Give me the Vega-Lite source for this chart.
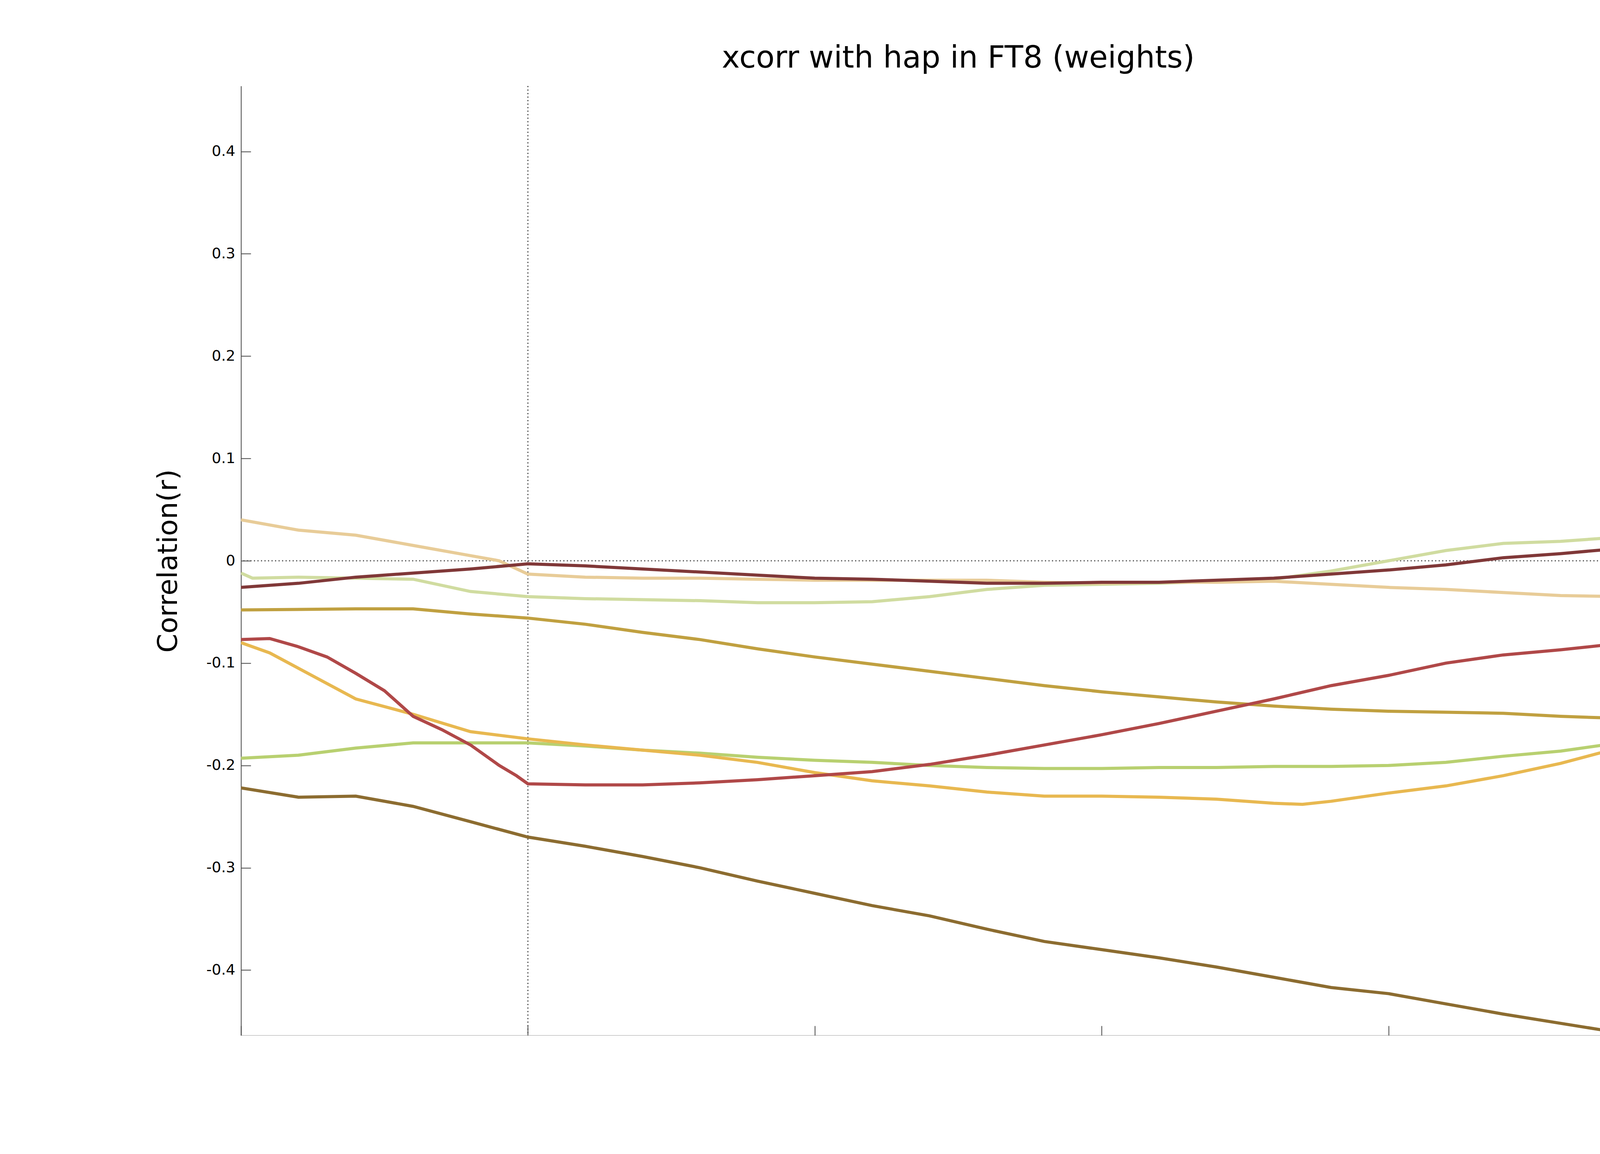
{
  "$schema": "https://vega.github.io/schema/vega-lite/v6.json",
  "width": 3672,
  "height": 2430,
  "autosize": {"type": "none"},
  "padding": {"left": 617, "top": 220, "right": 0, "bottom": 0},
  "background": "white",
  "config": {"font": "DejaVu Sans", "view": {"stroke": null}},
  "title": {"text": "xcorr with hap in FT8 (weights)", "fontSize": 78, "fontWeight": "normal", "offset": 30},
  "datasets": {
    "curves": [
      {"lag": -0.5, "r": -0.193, "hap": "hap01"}, {"lag": -0.4, "r": -0.19, "hap": "hap01"}, {"lag": -0.3, "r": -0.183, "hap": "hap01"}, {"lag": -0.2, "r": -0.178, "hap": "hap01"}, {"lag": -0.1, "r": -0.178, "hap": "hap01"}, {"lag": 0, "r": -0.178, "hap": "hap01"}, {"lag": 0.1, "r": -0.181, "hap": "hap01"}, {"lag": 0.2, "r": -0.185, "hap": "hap01"}, {"lag": 0.3, "r": -0.188, "hap": "hap01"}, {"lag": 0.4, "r": -0.192, "hap": "hap01"}, {"lag": 0.5, "r": -0.195, "hap": "hap01"}, {"lag": 0.6, "r": -0.197, "hap": "hap01"}, {"lag": 0.7, "r": -0.2, "hap": "hap01"}, {"lag": 0.8, "r": -0.202, "hap": "hap01"}, {"lag": 0.9, "r": -0.203, "hap": "hap01"}, {"lag": 1.0, "r": -0.203, "hap": "hap01"}, {"lag": 1.1, "r": -0.202, "hap": "hap01"}, {"lag": 1.2, "r": -0.202, "hap": "hap01"}, {"lag": 1.3, "r": -0.201, "hap": "hap01"}, {"lag": 1.4, "r": -0.201, "hap": "hap01"}, {"lag": 1.5, "r": -0.2, "hap": "hap01"}, {"lag": 1.6, "r": -0.197, "hap": "hap01"}, {"lag": 1.7, "r": -0.191, "hap": "hap01"}, {"lag": 1.8, "r": -0.186, "hap": "hap01"}, {"lag": 1.9, "r": -0.178, "hap": "hap01"}, {"lag": 2.0, "r": -0.171, "hap": "hap01"},
      {"lag": -0.5, "r": -0.012, "hap": "hap02"}, {"lag": -0.48, "r": -0.017, "hap": "hap02"}, {"lag": -0.4, "r": -0.016, "hap": "hap02"}, {"lag": -0.3, "r": -0.017, "hap": "hap02"}, {"lag": -0.2, "r": -0.018, "hap": "hap02"}, {"lag": -0.1, "r": -0.03, "hap": "hap02"}, {"lag": 0, "r": -0.035, "hap": "hap02"}, {"lag": 0.1, "r": -0.037, "hap": "hap02"}, {"lag": 0.2, "r": -0.038, "hap": "hap02"}, {"lag": 0.3, "r": -0.039, "hap": "hap02"}, {"lag": 0.4, "r": -0.041, "hap": "hap02"}, {"lag": 0.5, "r": -0.041, "hap": "hap02"}, {"lag": 0.6, "r": -0.04, "hap": "hap02"}, {"lag": 0.7, "r": -0.035, "hap": "hap02"}, {"lag": 0.8, "r": -0.028, "hap": "hap02"}, {"lag": 0.9, "r": -0.024, "hap": "hap02"}, {"lag": 1.0, "r": -0.023, "hap": "hap02"}, {"lag": 1.1, "r": -0.022, "hap": "hap02"}, {"lag": 1.2, "r": -0.02, "hap": "hap02"}, {"lag": 1.3, "r": -0.018, "hap": "hap02"}, {"lag": 1.4, "r": -0.01, "hap": "hap02"}, {"lag": 1.5, "r": 0.0, "hap": "hap02"}, {"lag": 1.6, "r": 0.01, "hap": "hap02"}, {"lag": 1.7, "r": 0.017, "hap": "hap02"}, {"lag": 1.8, "r": 0.019, "hap": "hap02"}, {"lag": 1.9, "r": 0.023, "hap": "hap02"}, {"lag": 2.0, "r": 0.028, "hap": "hap02"},
      {"lag": -0.5, "r": -0.222, "hap": "hap03"}, {"lag": -0.4, "r": -0.231, "hap": "hap03"}, {"lag": -0.3, "r": -0.23, "hap": "hap03"}, {"lag": -0.2, "r": -0.24, "hap": "hap03"}, {"lag": -0.1, "r": -0.255, "hap": "hap03"}, {"lag": 0, "r": -0.27, "hap": "hap03"}, {"lag": 0.1, "r": -0.279, "hap": "hap03"}, {"lag": 0.2, "r": -0.289, "hap": "hap03"}, {"lag": 0.3, "r": -0.3, "hap": "hap03"}, {"lag": 0.4, "r": -0.313, "hap": "hap03"}, {"lag": 0.5, "r": -0.325, "hap": "hap03"}, {"lag": 0.6, "r": -0.337, "hap": "hap03"}, {"lag": 0.7, "r": -0.347, "hap": "hap03"}, {"lag": 0.8, "r": -0.36, "hap": "hap03"}, {"lag": 0.9, "r": -0.372, "hap": "hap03"}, {"lag": 1.0, "r": -0.38, "hap": "hap03"}, {"lag": 1.1, "r": -0.388, "hap": "hap03"}, {"lag": 1.2, "r": -0.397, "hap": "hap03"}, {"lag": 1.3, "r": -0.407, "hap": "hap03"}, {"lag": 1.4, "r": -0.417, "hap": "hap03"}, {"lag": 1.5, "r": -0.423, "hap": "hap03"}, {"lag": 1.6, "r": -0.433, "hap": "hap03"}, {"lag": 1.7, "r": -0.443, "hap": "hap03"}, {"lag": 1.8, "r": -0.452, "hap": "hap03"}, {"lag": 1.9, "r": -0.461, "hap": "hap03"}, {"lag": 1.97, "r": -0.466, "hap": "hap03"},
      {"lag": -0.5, "r": -0.048, "hap": "hap04"}, {"lag": -0.3, "r": -0.047, "hap": "hap04"}, {"lag": -0.2, "r": -0.047, "hap": "hap04"}, {"lag": -0.1, "r": -0.052, "hap": "hap04"}, {"lag": 0, "r": -0.056, "hap": "hap04"}, {"lag": 0.1, "r": -0.062, "hap": "hap04"}, {"lag": 0.2, "r": -0.07, "hap": "hap04"}, {"lag": 0.3, "r": -0.077, "hap": "hap04"}, {"lag": 0.4, "r": -0.086, "hap": "hap04"}, {"lag": 0.5, "r": -0.094, "hap": "hap04"}, {"lag": 0.6, "r": -0.101, "hap": "hap04"}, {"lag": 0.7, "r": -0.108, "hap": "hap04"}, {"lag": 0.8, "r": -0.115, "hap": "hap04"}, {"lag": 0.9, "r": -0.122, "hap": "hap04"}, {"lag": 1.0, "r": -0.128, "hap": "hap04"}, {"lag": 1.1, "r": -0.133, "hap": "hap04"}, {"lag": 1.2, "r": -0.138, "hap": "hap04"}, {"lag": 1.3, "r": -0.142, "hap": "hap04"}, {"lag": 1.4, "r": -0.145, "hap": "hap04"}, {"lag": 1.5, "r": -0.147, "hap": "hap04"}, {"lag": 1.6, "r": -0.148, "hap": "hap04"}, {"lag": 1.7, "r": -0.149, "hap": "hap04"}, {"lag": 1.8, "r": -0.152, "hap": "hap04"}, {"lag": 1.9, "r": -0.154, "hap": "hap04"}, {"lag": 2.0, "r": -0.155, "hap": "hap04"},
      {"lag": -0.5, "r": -0.08, "hap": "hap05"}, {"lag": -0.45, "r": -0.09, "hap": "hap05"}, {"lag": -0.4, "r": -0.105, "hap": "hap05"}, {"lag": -0.35, "r": -0.12, "hap": "hap05"}, {"lag": -0.3, "r": -0.135, "hap": "hap05"}, {"lag": -0.2, "r": -0.15, "hap": "hap05"}, {"lag": -0.1, "r": -0.167, "hap": "hap05"}, {"lag": 0, "r": -0.174, "hap": "hap05"}, {"lag": 0.1, "r": -0.18, "hap": "hap05"}, {"lag": 0.2, "r": -0.185, "hap": "hap05"}, {"lag": 0.3, "r": -0.19, "hap": "hap05"}, {"lag": 0.4, "r": -0.197, "hap": "hap05"}, {"lag": 0.5, "r": -0.207, "hap": "hap05"}, {"lag": 0.6, "r": -0.215, "hap": "hap05"}, {"lag": 0.7, "r": -0.22, "hap": "hap05"}, {"lag": 0.8, "r": -0.226, "hap": "hap05"}, {"lag": 0.9, "r": -0.23, "hap": "hap05"}, {"lag": 1.0, "r": -0.23, "hap": "hap05"}, {"lag": 1.1, "r": -0.231, "hap": "hap05"}, {"lag": 1.2, "r": -0.233, "hap": "hap05"}, {"lag": 1.3, "r": -0.237, "hap": "hap05"}, {"lag": 1.35, "r": -0.238, "hap": "hap05"}, {"lag": 1.4, "r": -0.235, "hap": "hap05"}, {"lag": 1.5, "r": -0.227, "hap": "hap05"}, {"lag": 1.6, "r": -0.22, "hap": "hap05"}, {"lag": 1.7, "r": -0.21, "hap": "hap05"}, {"lag": 1.8, "r": -0.198, "hap": "hap05"}, {"lag": 1.9, "r": -0.183, "hap": "hap05"}, {"lag": 2.0, "r": -0.179, "hap": "hap05"},
      {"lag": -0.5, "r": 0.04, "hap": "hap06"}, {"lag": -0.4, "r": 0.03, "hap": "hap06"}, {"lag": -0.3, "r": 0.025, "hap": "hap06"}, {"lag": -0.2, "r": 0.015, "hap": "hap06"}, {"lag": -0.1, "r": 0.005, "hap": "hap06"}, {"lag": -0.05, "r": 0.0, "hap": "hap06"}, {"lag": 0, "r": -0.013, "hap": "hap06"}, {"lag": 0.1, "r": -0.016, "hap": "hap06"}, {"lag": 0.2, "r": -0.017, "hap": "hap06"}, {"lag": 0.3, "r": -0.017, "hap": "hap06"}, {"lag": 0.4, "r": -0.018, "hap": "hap06"}, {"lag": 0.5, "r": -0.019, "hap": "hap06"}, {"lag": 0.6, "r": -0.019, "hap": "hap06"}, {"lag": 0.7, "r": -0.019, "hap": "hap06"}, {"lag": 0.8, "r": -0.019, "hap": "hap06"}, {"lag": 0.9, "r": -0.021, "hap": "hap06"}, {"lag": 1.0, "r": -0.022, "hap": "hap06"}, {"lag": 1.1, "r": -0.021, "hap": "hap06"}, {"lag": 1.2, "r": -0.021, "hap": "hap06"}, {"lag": 1.3, "r": -0.02, "hap": "hap06"}, {"lag": 1.4, "r": -0.023, "hap": "hap06"}, {"lag": 1.5, "r": -0.026, "hap": "hap06"}, {"lag": 1.6, "r": -0.028, "hap": "hap06"}, {"lag": 1.7, "r": -0.031, "hap": "hap06"}, {"lag": 1.8, "r": -0.034, "hap": "hap06"}, {"lag": 1.9, "r": -0.035, "hap": "hap06"}, {"lag": 2.0, "r": -0.037, "hap": "hap06"},
      {"lag": -0.5, "r": -0.026, "hap": "hap07"}, {"lag": -0.4, "r": -0.022, "hap": "hap07"}, {"lag": -0.3, "r": -0.016, "hap": "hap07"}, {"lag": -0.2, "r": -0.012, "hap": "hap07"}, {"lag": -0.1, "r": -0.008, "hap": "hap07"}, {"lag": 0, "r": -0.003, "hap": "hap07"}, {"lag": 0.1, "r": -0.005, "hap": "hap07"}, {"lag": 0.2, "r": -0.008, "hap": "hap07"}, {"lag": 0.3, "r": -0.011, "hap": "hap07"}, {"lag": 0.4, "r": -0.014, "hap": "hap07"}, {"lag": 0.5, "r": -0.017, "hap": "hap07"}, {"lag": 0.6, "r": -0.018, "hap": "hap07"}, {"lag": 0.7, "r": -0.02, "hap": "hap07"}, {"lag": 0.8, "r": -0.022, "hap": "hap07"}, {"lag": 0.9, "r": -0.022, "hap": "hap07"}, {"lag": 1.0, "r": -0.021, "hap": "hap07"}, {"lag": 1.1, "r": -0.021, "hap": "hap07"}, {"lag": 1.2, "r": -0.019, "hap": "hap07"}, {"lag": 1.3, "r": -0.017, "hap": "hap07"}, {"lag": 1.4, "r": -0.013, "hap": "hap07"}, {"lag": 1.5, "r": -0.009, "hap": "hap07"}, {"lag": 1.6, "r": -0.004, "hap": "hap07"}, {"lag": 1.7, "r": 0.003, "hap": "hap07"}, {"lag": 1.8, "r": 0.007, "hap": "hap07"}, {"lag": 1.9, "r": 0.012, "hap": "hap07"}, {"lag": 2.0, "r": 0.016, "hap": "hap07"},
      {"lag": -0.5, "r": -0.077, "hap": "hap08"}, {"lag": -0.45, "r": -0.076, "hap": "hap08"}, {"lag": -0.4, "r": -0.084, "hap": "hap08"}, {"lag": -0.35, "r": -0.094, "hap": "hap08"}, {"lag": -0.3, "r": -0.11, "hap": "hap08"}, {"lag": -0.25, "r": -0.127, "hap": "hap08"}, {"lag": -0.2, "r": -0.152, "hap": "hap08"}, {"lag": -0.15, "r": -0.165, "hap": "hap08"}, {"lag": -0.1, "r": -0.18, "hap": "hap08"}, {"lag": -0.05, "r": -0.2, "hap": "hap08"}, {"lag": -0.02, "r": -0.21, "hap": "hap08"}, {"lag": 0, "r": -0.218, "hap": "hap08"}, {"lag": 0.1, "r": -0.219, "hap": "hap08"}, {"lag": 0.2, "r": -0.219, "hap": "hap08"}, {"lag": 0.3, "r": -0.217, "hap": "hap08"}, {"lag": 0.4, "r": -0.214, "hap": "hap08"}, {"lag": 0.5, "r": -0.21, "hap": "hap08"}, {"lag": 0.6, "r": -0.206, "hap": "hap08"}, {"lag": 0.7, "r": -0.199, "hap": "hap08"}, {"lag": 0.8, "r": -0.19, "hap": "hap08"}, {"lag": 0.9, "r": -0.18, "hap": "hap08"}, {"lag": 1.0, "r": -0.17, "hap": "hap08"}, {"lag": 1.1, "r": -0.159, "hap": "hap08"}, {"lag": 1.2, "r": -0.147, "hap": "hap08"}, {"lag": 1.3, "r": -0.135, "hap": "hap08"}, {"lag": 1.4, "r": -0.122, "hap": "hap08"}, {"lag": 1.5, "r": -0.112, "hap": "hap08"}, {"lag": 1.6, "r": -0.1, "hap": "hap08"}, {"lag": 1.7, "r": -0.092, "hap": "hap08"}, {"lag": 1.8, "r": -0.087, "hap": "hap08"}, {"lag": 1.9, "r": -0.081, "hap": "hap08"}, {"lag": 2.0, "r": -0.077, "hap": "hap08"}
    ]
  },
  "layer": [
    {
      "data": {"values": [{"ref": 0}]},
      "mark": {"type": "rule", "color": "#555555", "strokeDash": [3, 6], "strokeWidth": 3},
      "encoding": {"x": {"field": "ref", "type": "quantitative"}}
    },
    {
      "data": {"values": [{"ref": 0}]},
      "mark": {"type": "rule", "color": "#555555", "strokeDash": [3, 6], "strokeWidth": 3},
      "encoding": {"y": {"field": "ref", "type": "quantitative"}}
    },
    {
      "data": {"name": "curves"},
      "mark": {"type": "line", "strokeWidth": 8, "clip": true},
      "encoding": {
        "x": {
          "field": "lag", "type": "quantitative", "title": "Lag(s)",
          "scale": {"domain": [-0.5, 2], "nice": false, "zero": false},
          "axis": {"values": [-0.5, 0, 0.5, 1, 1.5, 2], "format": "~g", "labelExpr": "replace(datum.label, '\u2212', '-')", "labelFontSize": 38, "titleFontSize": 70, "titleFontWeight": "normal", "tickSize": -25, "labelPadding": 25, "titlePadding": 20, "grid": false, "domainColor": "#444444", "tickColor": "#444444", "tickWidth": 2, "domainWidth": 2}
        },
        "y": {
          "field": "r", "type": "quantitative", "title": "Correlation(r)",
          "scale": {"domain": [-0.464, 0.464], "nice": false},
          "axis": {"values": [-0.4, -0.3, -0.2, -0.1, 0, 0.1, 0.2, 0.3, 0.4], "format": "~g", "labelExpr": "replace(datum.label, '\u2212', '-')", "labelFontSize": 38, "titleFontSize": 70, "titleFontWeight": "normal", "tickSize": -25, "labelPadding": 40, "titlePadding": 60, "grid": false, "domainColor": "#444444", "tickColor": "#444444", "tickWidth": 2, "domainWidth": 2}
        },
        "color": {
          "field": "hap", "type": "nominal",
          "scale": {"domain": ["hap01", "hap02", "hap03", "hap04", "hap05", "hap06", "hap07", "hap08"], "range": ["#b8d070", "#d0dca0", "#8c6c30", "#c0a040", "#e8b850", "#e8cc98", "#803838", "#b04848"]},
          "legend": {"title": null, "orient": "none", "legendX": 3720, "legendY": 0, "labelFontSize": 38, "symbolType": "stroke", "symbolStrokeWidth": 8, "symbolSize": 9000, "rowPadding": 12, "strokeColor": "#333333", "padding": 15, "labelLimit": 400}
        }
      }
    }
  ]
}
